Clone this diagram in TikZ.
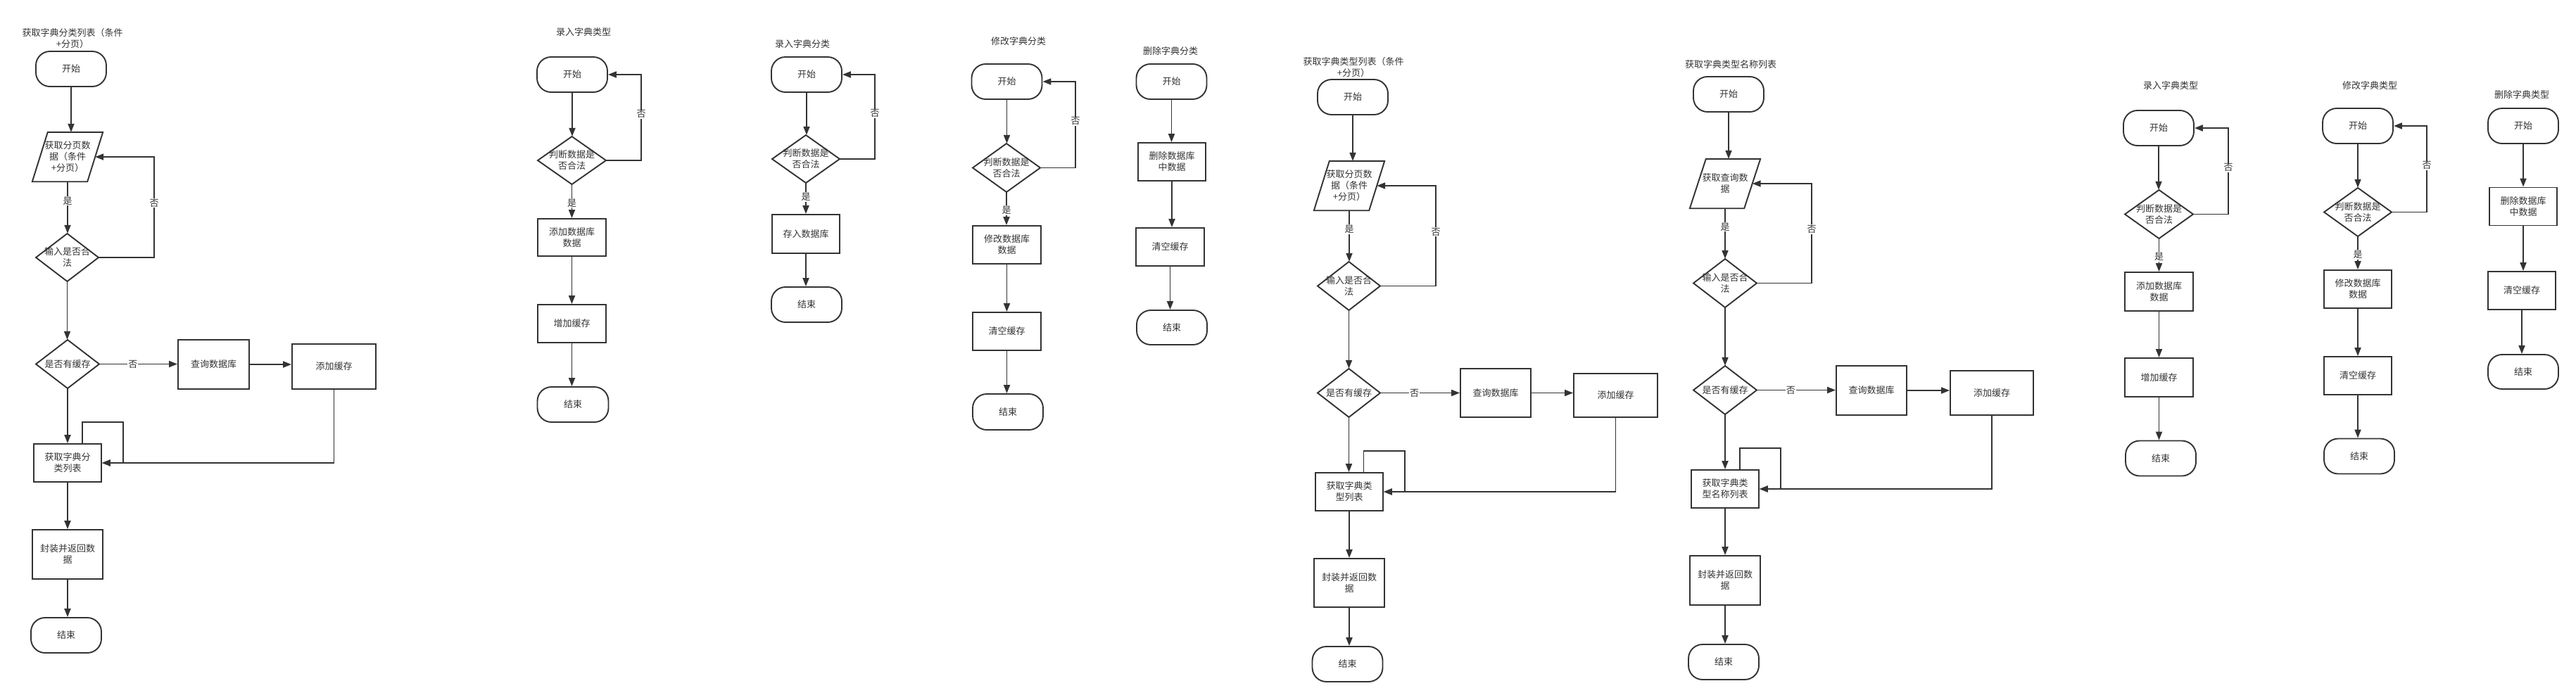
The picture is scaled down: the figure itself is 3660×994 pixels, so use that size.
\documentclass[tikz,border=0pt]{standalone}
\usepackage{fontspec}
\newfontfamily\cn{Noto Sans CJK SC}
\usetikzlibrary{calc,arrows.meta}
\definecolor{lc}{HTML}{333333}
\definecolor{tc}{HTML}{333333}
\tikzset{
  txt/.style={font=\cn\fontsize{13}{16}\selectfont, text=tc, align=center},
  term/.style={txt, draw=lc, line width=1.9pt, rounded corners=20pt, minimum width=100pt, minimum height=50pt, inner sep=0pt, fill=white},
  pbox/.style={txt, draw=lc, line width=1.9pt, inner sep=0pt, fill=white},
  shp/.style={txt, inner sep=0pt},
  edge/.style={draw=lc, line width=1.9pt, fill=white},
  arr/.style={draw=lc, line width=1.9pt, -{Triangle[length=12pt,width=9pt]}},
  lab/.style={txt, fill=white, inner sep=1pt},
  ttl/.style={txt}
}
\newcommand\mkdia[5]{%
  \path[edge] ($(#2)+(0,-#4/2)$) -- ($(#2)+(#3/2,0)$) -- ($(#2)+(0,#4/2)$) -- ($(#2)+(-#3/2,0)$) -- cycle;
  \node[shp, minimum width=#3pt, minimum height=#4pt] (#1) at (#2) {#5};}
\newcommand\mkpara[6]{%
  \node[shp, minimum width=#3pt, minimum height=#4pt] (#1) at (#2) {};
  \path[edge] ($(#1.north west)+(#5,0)$) -- (#1.north east) -- ($(#1.south east)-(#5,0)$) -- (#1.south west) -- cycle;
  \node[shp] at (#1.center) {#6};
  \coordinate (#1-r) at ($(#1.east)-(#5/2,0)$);}
\begin{document}
\begin{tikzpicture}[x=1pt,y=-1pt]
\useasboundingbox (0,0) rectangle (3660,994);
\fill[white] (0,0) rectangle (3660,994);

% ---------------- chart 1
\node[ttl] (a0) at (103,55) {获取字典分类列表（条件\\+分页）};
\node[term] (aS) at (101,98) {开始};
\mkpara{aP}{96,223}{100}{70}{22}{获取分页数\\据（条件\\+分页）}
\mkdia{aD1}{95.5,366}{89}{68}{输入是否合\\法}
\mkdia{aD2}{96,517.5}{90}{69}{是否有缓存}
\node[pbox, minimum width=101pt, minimum height=70pt] (aQ) at (303.5,518) {查询数据库};
\node[pbox, minimum width=119pt, minimum height=64pt] (aC) at (474.5,521) {添加缓存};
\node[pbox, minimum width=96pt, minimum height=54pt] (aL) at (96,658) {获取字典分\\类列表};
\node[pbox, minimum width=100pt, minimum height=70pt] (aR) at (96,788) {封装并返回数\\据};
\node[term] (aE) at (94,903) {结束};
\coordinate (aX) at (219,0);
\draw[arr] (aS.south) -- (aS.south |- aP.north);
\draw[arr] (aP.south) -- node[lab,pos=0.37]{是} (aP.south |- aD1.north);
\draw[arr] (aD1.east) -| node[lab,pos=0.77]{否} (aX |- aP-r) -- (aP-r);
\draw[arr] (aD1.south) -- (aD1.south |- aD2.north);
\draw[arr] (aD2.east) -- node[lab,pos=0.43]{否} (aD2.east -| aQ.west);
\draw[arr] (aQ.east) -- (aQ.east -| aC.west);
\draw[arr] (aD2.south) -- (aD2.south |- aL.north);
\draw[arr] (aC.south) |- (aL.east);
\draw[arr] ($(aL.north)+(21,0)$) -- ++(0,-30) -| ($(aL.east)+(30,0)$) -- (aL.east);
\draw[arr] (aL.south) -- (aL.south |- aR.north);
\draw[arr] (aR.south) -- (aR.south |- aE.north);

% ---------------- chart 2
\node[ttl] (b0) at (829,46) {录入字典类型};
\node[term] (bS) at (813,106) {开始};
\mkdia{bD}{812.5,228}{97}{68}{判断数据是\\否合法}
\node[pbox, minimum width=97pt, minimum height=53pt] (bA) at (812.5,337.5) {添加数据库\\数据};
\node[pbox, minimum width=97pt, minimum height=54pt] (bB) at (812.5,460) {增加缓存};
\node[term, minimum width=101pt] (bE) at (814,575) {结束};
\coordinate (bX) at (911,0);
\draw[arr] (bS.south) -- (bS.south |- bD.north);
\draw[arr] (bD.east) -| node[lab,pos=0.77]{否} (bX |- bS.east) -- (bS.east);
\draw[arr] (bD.south) -- node[lab,pos=0.55]{是} (bD.south |- bA.north);
\draw[arr] (bA.south) -- (bA.south |- bB.north);
\draw[arr] (bB.south) -- (bB.south |- bE.north);

% ---------------- chart 3
\node[ttl] (c0) at (1140,63) {录入字典分类};
\node[term] (cS) at (1146,106) {开始};
\mkdia{cD}{1145,226}{96}{68}{判断数据是\\否合法}
\node[pbox, minimum width=96pt, minimum height=55pt] (cA) at (1145,332.5) {存入数据库};
\node[term] (cE) at (1146,433) {结束};
\coordinate (cX) at (1243,0);
\draw[arr] (cS.south) -- (cS.south |- cD.north);
\draw[arr] (cD.east) -| node[lab,pos=0.77]{否} (cX |- cS.east) -- (cS.east);
\draw[arr] (cD.south) -- node[lab,pos=0.45]{是} (cD.south |- cA.north);
\draw[arr] (cA.south) -- (cA.south |- cE.north);

% ---------------- chart 4
\node[ttl] (d0) at (1447,59) {修改字典分类};
\node[term] (dS) at (1430.5,116) {开始};
\mkdia{dD}{1430,238.5}{96}{69}{判断数据是\\否合法}
\node[pbox, minimum width=97pt, minimum height=54pt] (dA) at (1430.5,348) {修改数据库\\数据};
\node[pbox, minimum width=97pt, minimum height=54pt] (dB) at (1430.5,471) {清空缓存};
\node[term, minimum height=51pt] (dE) at (1432,585.5) {结束};
\coordinate (dX) at (1528,0);
\draw[arr] (dS.south) -- (dS.south |- dD.north);
\draw[arr] (dD.east) -| node[lab,pos=0.77]{否} (dX |- dS.east) -- (dS.east);
\draw[arr] (dD.south) -- node[lab,pos=0.55]{是} (dD.south |- dA.north);
\draw[arr] (dA.south) -- (dA.south |- dB.north);
\draw[arr] (dB.south) -- (dB.south |- dE.north);

% ---------------- chart 5
\node[ttl] (e0) at (1663,73) {删除字典分类};
\node[term] (eS) at (1664.5,116) {开始};
\node[pbox, minimum width=96pt, minimum height=54pt] (eA) at (1665,230) {删除数据库\\中数据};
\node[pbox, minimum width=97pt, minimum height=54pt] (eB) at (1662.5,351) {清空缓存};
\node[term, minimum height=49pt] (eE) at (1665,465.5) {结束};
\draw[arr] (eS.south) -- (eS.south |- eA.north);
\draw[arr] (eA.south) -- (eA.south |- eB.north);
\draw[arr] (eB.south) -- (eB.south |- eE.north);

% ---------------- chart 6
\node[ttl] (f0) at (1923,95.5) {获取字典类型列表（条件\\+分页）};
\node[term] (fS) at (1922,138) {开始};
\mkpara{fP}{1917,264}{100}{70}{22}{获取分页数\\据（条件\\+分页）}
\mkdia{fD1}{1916.5,406.5}{89}{69}{输入是否合\\法}
\mkdia{fD2}{1916.5,558.5}{89}{69}{是否有缓存}
\node[pbox, minimum width=100pt, minimum height=69pt] (fQ) at (2125,558.5) {查询数据库};
\node[pbox, minimum width=119pt, minimum height=62pt] (fC) at (2295.5,562) {添加缓存};
\node[pbox, minimum width=96pt, minimum height=54pt] (fL) at (1917,699) {获取字典类\\型列表};
\node[pbox, minimum width=100pt, minimum height=69pt] (fR) at (1917,828.5) {封装并返回数\\据};
\node[term] (fE) at (1914.5,944) {结束};
\coordinate (fX) at (2040,0);
\draw[arr] (fS.south) -- (fS.south |- fP.north);
\draw[arr] (fP.south) -- node[lab,pos=0.37]{是} (fP.south |- fD1.north);
\draw[arr] (fD1.east) -| node[lab,pos=0.77]{否} (fX |- fP-r) -- (fP-r);
\draw[arr] (fD1.south) -- (fD1.south |- fD2.north);
\draw[arr] (fD2.east) -- node[lab,pos=0.43]{否} (fD2.east -| fQ.west);
\draw[arr] (fQ.east) -- (fQ.east -| fC.west);
\draw[arr] (fD2.south) -- (fD2.south |- fL.north);
\draw[arr] (fC.south) |- (fL.east);
\draw[arr] ($(fL.north)+(20.5,0)$) -- ++(0,-30) -| ($(fL.east)+(30,0)$) -- (fL.east);
\draw[arr] (fL.south) -- (fL.south |- fR.north);
\draw[arr] (fR.south) -- (fR.south |- fE.north);

% ---------------- chart 7
\node[ttl] (g0) at (2459,92) {获取字典类型名称列表};
\node[term] (gS) at (2456,134) {开始};
\mkpara{gP}{2451,261}{100}{70}{23}{获取查询数\\据}
\mkdia{gD1}{2451,402.5}{90}{69}{输入是否合\\法}
\mkdia{gD2}{2451,554.5}{90}{69}{是否有缓存}
\node[pbox, minimum width=100pt, minimum height=70pt] (gQ) at (2659,555) {查询数据库};
\node[pbox, minimum width=118pt, minimum height=63pt] (gC) at (2830,558.5) {添加缓存};
\node[pbox, minimum width=96pt, minimum height=54pt] (gL) at (2451,695) {获取字典类\\型名称列表};
\node[pbox, minimum width=100pt, minimum height=70pt] (gR) at (2451,825) {封装并返回数\\据};
\node[term] (gE) at (2449,941) {结束};
\coordinate (gX) at (2574,0);
\draw[arr] (gS.south) -- (gS.south |- gP.north);
\draw[arr] (gP.south) -- node[lab,pos=0.37]{是} (gP.south |- gD1.north);
\draw[arr] (gD1.east) -| node[lab,pos=0.77]{否} (gX |- gP-r) -- (gP-r);
\draw[arr] (gD1.south) -- (gD1.south |- gD2.north);
\draw[arr] (gD2.east) -- node[lab,pos=0.43]{否} (gD2.east -| gQ.west);
\draw[arr] (gQ.east) -- (gQ.east -| gC.west);
\draw[arr] (gD2.south) -- (gD2.south |- gL.north);
\draw[arr] (gC.south) |- (gL.east);
\draw[arr] ($(gL.north)+(21,0)$) -- ++(0,-30) -| ($(gL.east)+(30,0)$) -- (gL.east);
\draw[arr] (gL.south) -- (gL.south |- gR.north);
\draw[arr] (gR.south) -- (gR.south |- gE.north);

% ---------------- chart 8
\node[ttl] (h0) at (3084,122) {录入字典类型};
\node[term] (hS) at (3067,182) {开始};
\mkdia{hD}{3067.5,304.5}{97}{69}{判断数据是\\否合法}
\node[pbox, minimum width=97pt, minimum height=55pt] (hA) at (3067.5,414.5) {添加数据库\\数据};
\node[pbox, minimum width=97pt, minimum height=55pt] (hB) at (3067.5,536.5) {增加缓存};
\node[term] (hE) at (3070,651.5) {结束};
\coordinate (hX) at (3166,0);
\draw[arr] (hS.south) -- (hS.south |- hD.north);
\draw[arr] (hD.east) -| node[lab,pos=0.77]{否} (hX |- hS.east) -- (hS.east);
\draw[arr] (hD.south) -- node[lab,pos=0.55]{是} (hD.south |- hA.north);
\draw[arr] (hA.south) -- (hA.south |- hB.north);
\draw[arr] (hB.south) -- (hB.south |- hE.north);

% ---------------- chart 9
\node[ttl] (i0) at (3367,122) {修改字典类型};
\node[term] (iS) at (3350,179) {开始};
\mkdia{iD}{3350,301.5}{96}{69}{判断数据是\\否合法}
\node[pbox, minimum width=96pt, minimum height=54pt] (iA) at (3350,411) {修改数据库\\数据};
\node[pbox, minimum width=96pt, minimum height=54pt] (iB) at (3350,534) {清空缓存};
\node[term] (iE) at (3352,648.5) {结束};
\coordinate (iX) at (3448,0);
\draw[arr] (iS.south) -- (iS.south |- iD.north);
\draw[arr] (iD.east) -| node[lab,pos=0.77]{否} (iX |- iS.east) -- (iS.east);
\draw[arr] (iD.south) -- node[lab,pos=0.55]{是} (iD.south |- iA.north);
\draw[arr] (iA.south) -- (iA.south |- iB.north);
\draw[arr] (iB.south) -- (iB.south |- iE.north);

% ---------------- chart 10
\node[ttl] (j0) at (3583,135) {删除字典类型};
\node[term] (jS) at (3585,179) {开始};
\node[pbox, minimum width=96pt, minimum height=54pt] (jA) at (3585,293.5) {删除数据库\\中数据};
\node[pbox, minimum width=96pt, minimum height=54pt] (jB) at (3583,413) {清空缓存};
\node[term, minimum height=49pt] (jE) at (3585,528.5) {结束};
\draw[arr] (jS.south) -- (jS.south |- jA.north);
\draw[arr] (jA.south) -- (jA.south |- jB.north);
\draw[arr] (jB.south) -- (jB.south |- jE.north);
\end{tikzpicture}
\end{document}
